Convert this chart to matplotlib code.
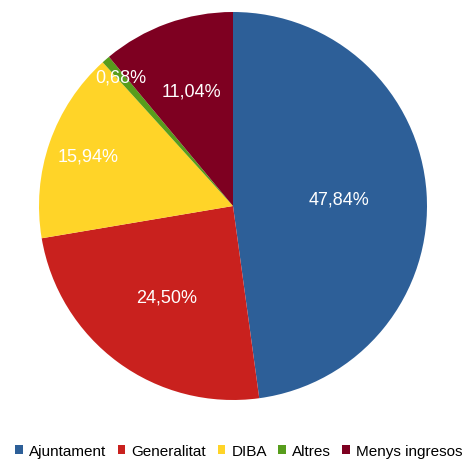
import numpy as np
import matplotlib.pyplot as plt
from matplotlib.patches import Patch

plt.rcParams['font.family'] = ['Liberation Sans', 'DejaVu Sans']

categories = ['Ajuntament', 'Generalitat', 'DIBA', 'Altres', 'Menys ingresos']
values = [47.84, 24.50, 15.94, 0.68, 11.04]
labels = ['47,84%', '24,50%', '15,94%', '0,68%', '11,04%']
colors = ['#2D5F98', '#C9211E', '#FFD428', '#579D1C', '#7E0021']
label_dist = [0.55, 0.58, 0.79, 0.88, 0.63]

fig = plt.figure(figsize=(4.67, 4.60), dpi=100)
ax = fig.add_axes([38 / 467, (460 - 401) / 460, 390 / 467, 388 / 460])

wedges, _ = ax.pie(values, colors=colors, startangle=90, counterclock=False,
                   radius=1, wedgeprops=dict(linewidth=0))

for w, lab, d in zip(wedges, labels, label_dist):
    ang = np.deg2rad((w.theta1 + w.theta2) / 2)
    ax.text(d * np.cos(ang), d * np.sin(ang), lab, color='white',
            fontsize=13, ha='center', va='center')

ax.set_xlim(-1, 1)
ax.set_ylim(-1, 1)
ax.axis('off')

handles = [Patch(facecolor=c, edgecolor='none') for c in colors]
fig.legend(handles, categories, loc='center', bbox_to_anchor=(239 / 467, 1 - 452 / 460),
           ncol=5, frameon=False, fontsize=11, handlelength=0.5, handleheight=0.5,
           handletextpad=0.4, columnspacing=0.75, borderpad=0, borderaxespad=0)

fig.savefig('out.png', dpi=100)
